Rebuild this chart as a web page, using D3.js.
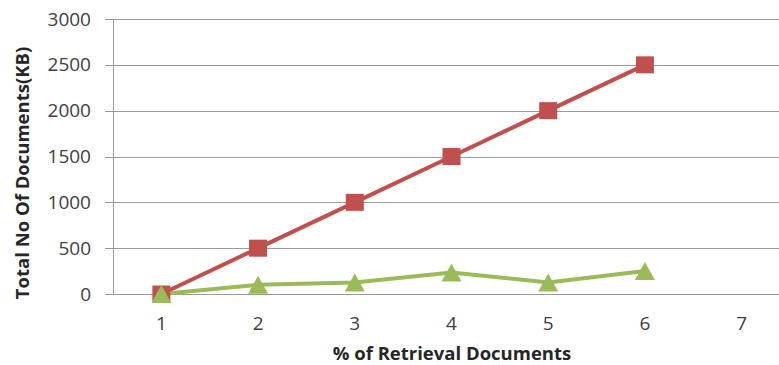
<!DOCTYPE html>
<html>
<head>
<meta charset="utf-8">
<script src="https://cdn.jsdelivr.net/npm/d3@7"></script>
<style>
  html, body { margin: 0; padding: 0; background: #fff; }
  svg { display: block; }
</style>
</head>
<body>
<svg id="chart" width="779" height="365"></svg>
<script>
// Chart data
const categories = [1, 2, 3, 4, 5, 6, 7];
const totalDocs = [0, 500, 1000, 1500, 2000, 2500];
const retrievedDocs = [0, 100, 125, 235, 125, 250];
const yTicks = [0, 500, 1000, 1500, 2000, 2500, 3000];
const xTitle = "% of Retrieval Documents";
const yTitle = "Total No Of Documents(KB)";

(function () {
  const svg = d3.select("#chart");
  const W = 779;
  const plotLeft = 113, plotRight = 790, plotTop = 19, plotBottom = 294;

  const x = d3.scaleBand().domain(categories).range([plotLeft, plotRight]);
  const y = d3.scaleLinear().domain([0, 3000]).range([plotBottom, plotTop]);
  const cx = d => x(d) + x.bandwidth() / 2;

  const font = "'Open Sans', 'Liberation Sans', sans-serif";
  const gridColor = "#9a9a9a";
  const labelColor = "#404040";

  // Horizontal gridlines
  svg.append("g").selectAll("line").data(yTicks).join("line")
    .attr("x1", plotLeft - 8).attr("x2", W)
    .attr("y1", d => Math.round(y(d)) + 0.5).attr("y2", d => Math.round(y(d)) + 0.5)
    .attr("stroke", gridColor).attr("stroke-width", 1);

  // Vertical axis line
  svg.append("line")
    .attr("x1", plotLeft + 0.5).attr("x2", plotLeft + 0.5)
    .attr("y1", y(3000)).attr("y2", y(0))
    .attr("stroke", gridColor).attr("stroke-width", 1);

  // Y tick labels
  svg.append("g").selectAll("text").data(yTicks).join("text")
    .attr("x", 91).attr("y", d => y(d) + 6.5)
    .attr("text-anchor", "end")
    .attr("font-family", font).attr("font-size", 19).attr("fill", labelColor)
    .text(d => d);

  // X tick labels
  svg.append("g").selectAll("text").data(categories).join("text")
    .attr("x", d => cx(d)).attr("y", 330)
    .attr("text-anchor", "middle")
    .attr("font-family", font).attr("font-size", 19).attr("fill", labelColor)
    .text(d => d);

  // Axis titles
  svg.append("text")
    .attr("x", 452).attr("y", 360)
    .attr("text-anchor", "middle")
    .attr("font-family", font).attr("font-size", 18.5).attr("font-weight", "bold").attr("fill", "#262626")
    .text(xTitle);

  svg.append("text")
    .attr("transform", "translate(29,173) rotate(-90)")
    .attr("text-anchor", "middle")
    .attr("font-family", font).attr("font-size", 18.5).attr("font-weight", "bold").attr("fill", "#262626")
    .text(yTitle);

  const line = d3.line().x((d, i) => cx(categories[i])).y(d => y(d));

  // Red series line
  svg.append("path").datum(totalDocs)
    .attr("d", line).attr("fill", "none")
    .attr("stroke", "#C0504D").attr("stroke-width", 4);

  // Green series line
  svg.append("path").datum(retrievedDocs)
    .attr("d", line).attr("fill", "none")
    .attr("stroke", "#9BBB59").attr("stroke-width", 4);

  // Square markers
  svg.append("g").selectAll("rect").data(totalDocs).join("rect")
    .attr("x", (d, i) => cx(categories[i]) - 9)
    .attr("y", d => y(d) - 8.5)
    .attr("width", 18).attr("height", 17)
    .attr("fill", "#C0504D");

  // Triangle markers, centred on their bounding box
  const triangle = {
    draw(ctx) {
      ctx.moveTo(0, -9);
      ctx.lineTo(10, 9);
      ctx.lineTo(-10, 9);
      ctx.closePath();
    }
  };
  svg.append("g").selectAll("path").data(retrievedDocs).join("path")
    .attr("transform", (d, i) => `translate(${cx(categories[i])},${y(d)})`)
    .attr("d", d3.symbol().type(triangle))
    .attr("fill", "#9BBB59");
})();
</script>
</body>
</html>
